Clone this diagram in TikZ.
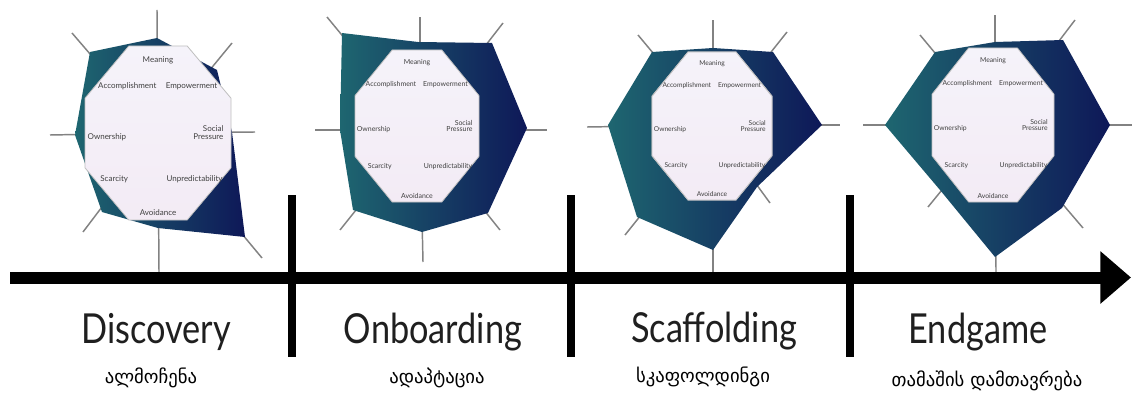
\documentclass[tikz,border=0pt]{standalone}
\usepackage{fontspec}
\usetikzlibrary{arrows.meta}
\newfontfamily\labfont{Lato}
\newfontfamily\geofont{DejaVu Sans}

\definecolor{tealc}{RGB}{30,102,112}
\definecolor{navyc}{RGB}{14,24,88}
\definecolor{octbg}{RGB}{245,243,250}
\definecolor{octpink}{RGB}{243,235,245}
\definecolor{spokec}{RGB}{130,130,130}
\definecolor{wmark}{RGB}{243,218,230}

\tikzset{
  spoke/.style={draw=spokec, line width=1.1pt},
  darkarea/.style={left color=tealc, right color=navyc},
  octshape/.style={top color=octbg, bottom color=octpink, draw=gray!50, line width=0.6pt},
  corelabel/.style={inner sep=0pt, text=black!75, align=center},
  divider/.style={line width=5.5pt, black},
  timeline/.style={line width=9pt, black, -{Triangle[length=23pt,width=38pt]}},
  phase/.style={anchor=base, inner sep=0pt, font=\labfont\fontsize{31pt}{31pt}\selectfont, text=black!88},
  phasegeo/.style={anchor=base, inner sep=0pt, font=\geofont\fontsize{14pt}{14pt}\selectfont},
}

\newcommand\phasetxt[1]{\scalebox{0.83}[1]{#1}}

% Octagon of the eight core drives: #1 name prefix, #2,#3 centre, #4,#5 half sizes, #6 font size
\newcommand\octpanel[6]{%
  \begin{scope}[shift={(#2,#3)}, xscale=#4, yscale=#5]
    \path[octshape] (-0.4,-1) -- (0.4,-1) -- (1,-0.4) -- (1,0.4) -- (0.4,1)
      -- (-0.4,1) -- (-1,0.4) -- (-1,-0.4) -- cycle;
    \begin{scope}[every node/.append style={corelabel, font=\labfont\fontsize{#6pt}{#6pt}\selectfont}]
      \node (#1-mea) at (0,-0.84) {Meaning};
      \node (#1-acc) at (-0.42,-0.54) {Accomplishment};
      \node (#1-emp) at (0.46,-0.54) {Empowerment};
      \node (#1-own) at (-0.70,0.05) {Ownership};
      \node[anchor=east, align=right] (#1-soc) at (0.9,0.0) {Social\\Pressure};
      \node (#1-sca) at (-0.60,0.53) {Scarcity};
      \node (#1-unp) at (0.50,0.53) {Unpredictability};
      \node (#1-avo) at (0,0.92) {Avoidance};
    \end{scope}
  \end{scope}}

\begin{document}
\begin{tikzpicture}[x=0.75pt, y=-0.75pt]
  \useasboundingbox[fill=white] (0,0) rectangle (1141,399);

  % ---------- Discovery ----------
  \coordinate (p1c) at (158,133);
  \foreach \e in {(157,10),(232,43),(255,132),(262,258),(159,272),(83,232),(50,135),(72,33)}
    \draw[spoke] (p1c) -- \e;
  \shade[darkarea] (90,52) -- (157,38) -- (217,70) -- (232,132) -- (245,237)
    -- (158,228) -- (102,212) -- (75,135) -- cycle;
  \octpanel{p1}{158}{133}{73}{87}{6}

  % ---------- Onboarding ----------
  \coordinate (p2c) at (420,130);
  \foreach \e in {(420,17),(503,23),(547,130),(500,230),(423,262),(340,230),(315,130),(327,17)}
    \draw[spoke] (p2c) -- \e;
  \shade[darkarea] (342,33) -- (418,42) -- (492,43) -- (527,128) -- (488,213)
    -- (422,232) -- (353,210) -- (340,130) -- cycle;
  \octpanel{p2}{417}{126}{62}{76}{5.2}

  % ---------- Scaffolding ----------
  \coordinate (p3c) at (713,125);
  \foreach \e in {(713,20),(787,32),(840,125),(770,203),(713,272),(625,235),(587,127),(638,35)}
    \draw[spoke] (p3c) -- \e;
  \shade[darkarea] (652,52) -- (713,48) -- (773,52) -- (822,125) -- (757,187)
    -- (713,250) -- (637,217) -- (608,125) -- cycle;
  \begin{scope}
    \path[octshape] (712-24,52) -- (712+24,52) -- (772,126-30) -- (772,126+30)
      -- (712+24,200) -- (712-24,200) -- (652,126+30) -- (652,126-30) -- cycle;
    % faint logo lettering behind the drive names
    \node[inner sep=0pt, text=wmark, font=\labfont\fontsize{19pt}{19pt}\selectfont] (wm) at (709,127) {Octalysis};
  \end{scope}
  \octpanel{p3}{712}{126}{60}{74}{5}

  % ---------- Endgame ----------
  \coordinate (p4c) at (995,125);
  \foreach \e in {(995,15),(1075,20),(1132,125),(1083,228),(996,272),(928,207),(863,125),(920,35)}
    \draw[spoke] (p4c) -- \e;
  \shade[darkarea] (935,52) -- (995,42) -- (1063,40) -- (1110,125) -- (1062,208)
    -- (995,257) -- (940,190) -- (885,125) -- cycle;
  \octpanel{p4}{993}{125}{61}{77}{5.1}

  % ---------- timeline ----------
  \coordinate (tl-start) at (10,277.5);
  \coordinate (tl-end) at (1131,277.5);
  \foreach \i/\x in {1/292, 2/571, 3/850} {
    \coordinate (d\i-top) at (\x,195);
    \coordinate (d\i-bot) at (\x,357);
    \draw[divider] (d\i-top) -- (d\i-bot);
  }
  \draw[timeline] (tl-start) -- (tl-end);

  % ---------- phase names ----------
  \node[phase] (ph1) at (156,343) {\phasetxt{Discovery}};
  \node[phase] (ph2) at (433,343) {\phasetxt{Onboarding}};
  \node[phase] (ph3) at (714,342) {\phasetxt{Scaffolding}};
  \node[phase] (ph4) at (978,343) {\phasetxt{Endgame}};

  \node[phasegeo] (ge1) at (151,383) {ალმოჩენა};
  \node[phasegeo] (ge2) at (437,383) {ადაპტაცია};
  \node[phasegeo] (ge3) at (703,382) {სკაფოლდინგი};
  \node[phasegeo] (ge4) at (987,386) {თამაშის დამთავრება};
\end{tikzpicture}
\end{document}
